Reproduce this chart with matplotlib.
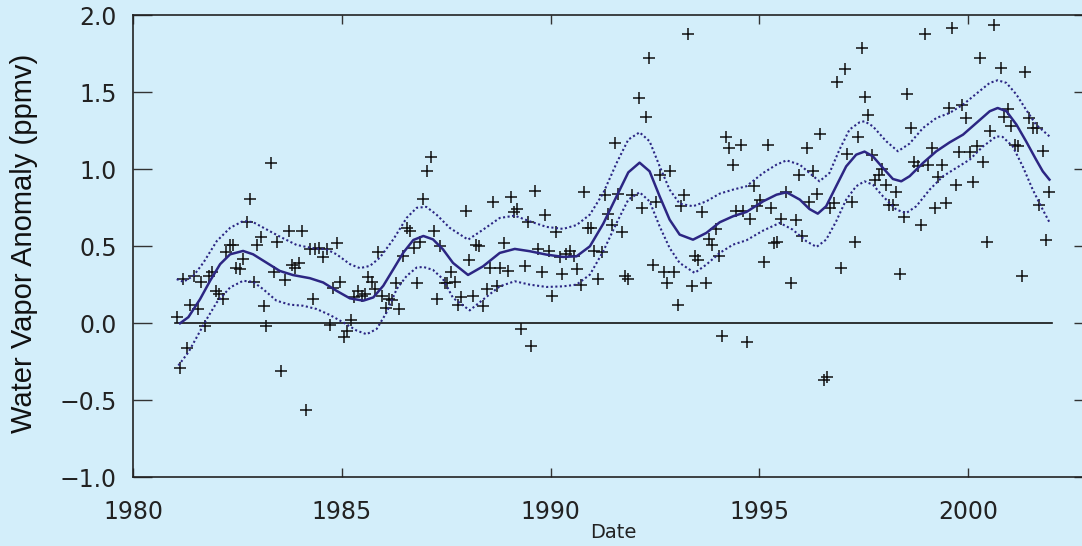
import matplotlib
matplotlib.use('Agg')
import matplotlib.pyplot as plt
from matplotlib.ticker import MultipleLocator

# monthly anomalies
obs_year = [
    1981.04, 1981.12, 1981.29, 1981.18, 1981.45, 1981.37, 1981.56, 1981.62, 1981.71, 1981.82,
    1981.89, 1981.98, 1982.05, 1982.14, 1982.22, 1982.32, 1982.38, 1982.46, 1982.56, 1982.63,
    1982.72, 1982.80, 1982.89, 1982.96, 1983.05, 1983.13, 1983.19, 1983.29, 1983.37, 1983.45,
    1983.55, 1983.63, 1983.72, 1983.80, 1983.88, 1983.98, 1984.04, 1984.14, 1984.23, 1984.30,
    1984.36, 1984.46, 1984.54, 1984.63, 1984.71, 1984.79, 1984.87, 1984.95, 1985.05, 1985.13,
    1985.21, 1985.29, 1985.38, 1985.48, 1985.56, 1985.62, 1985.72, 1985.80, 1985.86, 1985.97,
    1986.05, 1986.13, 1986.21, 1986.29, 1986.37, 1986.47, 1986.55, 1986.63, 1986.72, 1986.79,
    1986.88, 1986.95, 1987.04, 1987.14, 1987.20, 1987.28, 1987.36, 1987.46, 1987.52,
    1987.62, 1987.70, 1987.84, 1987.78, 1987.97, 1988.05, 1988.13, 1988.21, 1988.29, 1988.37,
    1988.48, 1988.54, 1988.62, 1988.72, 1988.78, 1988.88, 1988.97, 1989.04, 1989.12, 1989.20,
    1989.28, 1989.38, 1989.46, 1989.53, 1989.62, 1989.69, 1989.79, 1989.87, 1989.96, 1990.04,
    1990.12, 1990.22, 1990.28, 1990.36, 1990.46, 1990.55, 1990.62, 1990.73, 1990.79, 1990.89,
    1990.97, 1991.05, 1991.13, 1991.24, 1991.29, 1991.37, 1991.46, 1991.53, 1991.62, 1991.70,
    1991.78, 1991.86, 1991.96, 1992.12, 1992.20, 1992.29, 1992.36, 1992.45, 1992.53, 1992.61,
    1992.71, 1992.79, 1992.87, 1992.96, 1993.04, 1993.12, 1993.20, 1993.28, 1993.38, 1993.46,
    1993.54, 1993.62, 1993.71, 1993.79, 1993.87, 1993.95, 1994.03, 1994.11, 1994.19, 1994.27,
    1994.37, 1994.45, 1994.55, 1994.62, 1994.70, 1994.78, 1994.88, 1994.94,
    1995.02, 1995.10, 1995.21, 1995.28, 1995.34, 1995.42, 1995.53, 1995.63, 1995.77, 1995.87,
    1995.95, 1996.03, 1996.13, 1996.20, 1996.28, 1996.38, 1996.46, 1996.54, 1996.62, 1996.70,
    1996.80, 1996.87, 1996.95, 1997.04, 1997.11, 1997.21, 1997.29, 1997.36, 1997.46, 1997.53,
    1997.61, 1997.71, 1997.78, 1997.86, 1997.95, 1998.04, 1998.10, 1998.20, 1998.28, 1998.38,
    1998.46, 1998.53, 1998.63, 1998.70, 1998.79, 1998.87, 1998.96, 1999.05, 1999.13, 1999.21,
    1999.29, 1999.37, 1999.46, 1999.54, 1999.62, 1999.70, 1999.78, 1999.86, 1999.96, 2000.04,
    2000.13, 2000.21, 2000.28, 2000.37, 2000.45, 2000.53, 2000.63, 2000.79, 2000.87, 2000.96,
    2001.04, 2001.12, 2001.20, 2001.30, 2001.36, 2001.46, 2001.55, 2001.65, 2001.71, 2001.79,
    2001.87, 2001.95]
obs_anom = [
    0.04, -0.29, -0.16, 0.29, 0.31, 0.12, 0.09, 0.27, -0.02, 0.31,
    0.33, 0.21, 0.19, 0.16, 0.46, 0.51, 0.51, 0.36, 0.35, 0.42,
    0.66, 0.81, 0.27, 0.51, 0.56, 0.11, -0.02, 1.04, 0.33, 0.53,
    -0.31, 0.28, 0.60, 0.38, 0.36, 0.39, 0.60, -0.56, 0.48, 0.16,
    0.48, 0.49, 0.43, 0.48, -0.01, 0.23, 0.52, 0.27, -0.09, -0.05,
    0.02, 0.17, 0.21, 0.18, 0.19, 0.30, 0.27, 0.22, 0.46, 0.18,
    0.10, 0.16, 0.15, 0.26, 0.09, 0.44, 0.62, 0.60, 0.49, 0.26,
    0.53, 0.81, 0.99, 1.08, 0.60, 0.16, 0.50, 0.26, 0.26,
    0.33, 0.27, 0.17, 0.12, 0.73, 0.41, 0.18, 0.51, 0.50, 0.11,
    0.22, 0.36, 0.79, 0.24, 0.36, 0.52, 0.34, 0.82, 0.72, 0.74,
    -0.04, 0.37, 0.66, -0.15, 0.86, 0.48, 0.33, 0.70, 0.47, 0.18,
    0.59, 0.43, 0.32, 0.45, 0.47, 0.44, 0.35, 0.25, 0.85, 0.62,
    0.62, 0.47, 0.29, 0.46, 0.83, 0.71, 0.64, 1.17, 0.84, 0.59,
    0.31, 0.29, 0.83, 1.46, 0.75, 1.34, 1.72, 0.38, 0.79, 0.96,
    0.33, 0.26, 0.99, 0.33, 0.12, 0.76, 0.83, 1.88, 0.24, 0.44,
    0.41, 0.72, 0.26, 0.55, 0.51, 0.61, 0.44, -0.08, 1.21, 1.14,
    1.03, 0.73, 1.16, 0.73, -0.12, 0.68, 0.89, 0.76,
    0.80, 0.40, 1.16, 0.75, 0.52, 0.53, 0.68, 0.85, 0.26, 0.67,
    0.96, 0.57, 1.14, 0.79, 0.99, 0.84, 1.23, -0.37, -0.35, 0.75,
    0.78, 1.57, 0.36, 1.65, 1.10, 0.79, 0.53, 1.21, 1.79, 1.47,
    1.35, 1.09, 0.93, 0.96, 1.00, 0.90, 0.77, 0.77, 0.85, 0.32,
    0.69, 1.49, 1.27, 1.05, 1.02, 0.64, 1.88, 1.03, 1.14, 0.75,
    0.95, 1.03, 0.78, 1.40, 1.92, 0.90, 1.11, 1.42, 1.33, 1.11,
    0.92, 1.15, 1.72, 1.05, 0.53, 1.25, 1.94, 1.66, 1.34, 1.39,
    1.28, 1.16, 1.15, 0.31, 1.63, 1.33, 1.27, 1.27, 0.77, 1.12,
    0.54, 0.85]

# smoothed fit and its confidence bounds
fit_year = [
    1981.12, 1981.32, 1981.60, 1981.84, 1982.08, 1982.32, 1982.63, 1982.87, 1983.19, 1983.51,
    1983.83, 1984.23, 1984.55, 1984.87, 1985.19, 1985.51, 1985.75, 1985.99, 1986.23, 1986.47,
    1986.71, 1986.95, 1987.18, 1987.42, 1987.66, 1988.02, 1988.38, 1988.78, 1989.14, 1989.50,
    1989.90, 1990.30, 1990.62, 1990.94, 1991.26, 1991.58, 1991.86, 1992.13, 1992.37, 1992.61,
    1992.85, 1993.09, 1993.41, 1993.73, 1994.05, 1994.37, 1994.69, 1995.09, 1995.41, 1995.65,
    1995.97, 1996.20, 1996.40, 1996.60, 1996.84, 1997.08, 1997.32, 1997.52, 1997.72, 1997.96,
    1998.20, 1998.40, 1998.60, 1998.92, 1999.24, 1999.56, 1999.88, 2000.20, 2000.52, 2000.71,
    2000.92, 2001.16, 2001.39, 2001.63, 2001.79, 2001.95]
fit_mid = [
    0.00, 0.04, 0.157, 0.276, 0.384, 0.448, 0.47, 0.448, 0.394, 0.34,
    0.313, 0.293, 0.265, 0.211, 0.162, 0.147, 0.168, 0.244, 0.351, 0.459,
    0.541, 0.567, 0.545, 0.48, 0.392, 0.314, 0.37, 0.457, 0.483, 0.468,
    0.446, 0.431, 0.435, 0.50, 0.647, 0.825, 0.98, 1.043, 0.987, 0.825,
    0.673, 0.576, 0.543, 0.587, 0.656, 0.695, 0.723, 0.792, 0.835, 0.851,
    0.803, 0.742, 0.712, 0.76, 0.89, 1.019, 1.095, 1.115, 1.084, 1.009,
    0.937, 0.922, 0.955, 1.041, 1.117, 1.175, 1.225, 1.301, 1.377, 1.398,
    1.377, 1.29, 1.182, 1.063, 0.987, 0.933]

upper_year = [
    1981.04, 1981.20, 1981.44, 1981.68, 1982.00, 1982.32, 1982.63, 1982.87, 1983.19, 1983.51,
    1983.91, 1984.31, 1984.63, 1984.87, 1985.19, 1985.43, 1985.67, 1985.91, 1986.23, 1986.55,
    1986.79, 1987.02, 1987.26, 1987.58, 1988.02, 1988.38, 1988.78, 1989.14, 1989.50, 1989.90,
    1990.30, 1990.62, 1990.94, 1991.26, 1991.58, 1991.86, 1992.13, 1992.37, 1992.61, 1992.85,
    1993.09, 1993.41, 1993.73, 1994.05, 1994.37, 1994.69, 1995.09, 1995.41, 1995.65, 1995.97,
    1996.20, 1996.44, 1996.68, 1996.92, 1997.16, 1997.40, 1997.52, 1997.72, 1998.04, 1998.32,
    1998.60, 1998.92, 1999.24, 1999.56, 1999.88, 2000.20, 2000.52, 2000.71, 2000.92, 2001.16,
    2001.39, 2001.63, 2001.95]
fit_upper = [
    0.287, 0.269, 0.308, 0.394, 0.534, 0.62, 0.664, 0.657, 0.61, 0.563,
    0.509, 0.487, 0.48, 0.448, 0.384, 0.358, 0.373, 0.427, 0.545, 0.685,
    0.75, 0.756, 0.707, 0.62, 0.543, 0.608, 0.684, 0.699, 0.662, 0.626,
    0.613, 0.638, 0.706, 0.846, 1.041, 1.193, 1.24, 1.182, 1.02, 0.868,
    0.777, 0.76, 0.792, 0.842, 0.868, 0.89, 0.976, 1.03, 1.058, 1.03,
    0.976, 0.922, 0.976, 1.128, 1.258, 1.305, 1.312, 1.279, 1.182, 1.117,
    1.167, 1.268, 1.333, 1.366, 1.42, 1.491, 1.561, 1.578, 1.561, 1.485,
    1.387, 1.29, 1.214]

lower_year = [
    1981.08, 1981.32, 1981.52, 1981.76, 1982.00, 1982.32, 1982.63, 1982.87, 1983.11, 1983.43,
    1983.75, 1984.07, 1984.39, 1984.71, 1985.03, 1985.35, 1985.59, 1985.83, 1986.07, 1986.31,
    1986.55, 1986.79, 1986.95, 1987.18, 1987.42, 1987.66, 1988.06, 1988.38, 1988.78, 1989.14,
    1989.50, 1989.90, 1990.30, 1990.62, 1990.94, 1991.26, 1991.58, 1991.86, 1992.13, 1992.37,
    1992.61, 1992.85, 1993.09, 1993.45, 1993.73, 1994.05, 1994.37, 1994.69, 1995.09, 1995.49,
    1995.80, 1996.13, 1996.37, 1996.60, 1996.84, 1997.08, 1997.32, 1997.52, 1997.72, 1997.96,
    1998.28, 1998.52, 1998.76, 1999.08, 1999.40, 1999.72, 2000.04, 2000.36, 2000.68, 2000.83,
    2001.07, 2001.31, 2001.55, 2001.79, 2001.95]
fit_lower = [
    -0.274, -0.188, -0.09, 0.028, 0.136, 0.233, 0.276, 0.269, 0.222, 0.147,
    0.121, 0.114, 0.093, 0.054, 0.006, -0.047, -0.071, -0.037, 0.071, 0.222,
    0.308, 0.362, 0.366, 0.347, 0.287, 0.165, 0.084, 0.154, 0.24, 0.273,
    0.251, 0.236, 0.24, 0.251, 0.316, 0.468, 0.652, 0.803, 0.851, 0.792,
    0.63, 0.489, 0.392, 0.327, 0.381, 0.457, 0.511, 0.539, 0.602, 0.652,
    0.608, 0.532, 0.496, 0.543, 0.662, 0.803, 0.89, 0.922, 0.90, 0.825,
    0.738, 0.716, 0.76, 0.868, 0.955, 1.009, 1.063, 1.149, 1.214, 1.21,
    1.149, 1.019, 0.868, 0.738, 0.656]

zero_span = [1981.0, 2002.0]

bg = '#d3eefa'
navy = '#2c2683'

fig = plt.figure(figsize=(10.82, 5.46), dpi=100, facecolor=bg)
ax = fig.add_axes([0.1232, 0.1258, 0.8872, 0.8462], facecolor=bg)

ax.plot(zero_span, [0, 0], color='#111111', linewidth=1.2)
ax.plot(obs_year, obs_anom, linestyle='none', marker='+', color='#111111',
        markersize=8, markeredgewidth=1.1)
ax.plot(fit_year, fit_mid, color=navy, linewidth=1.8)
ax.plot(upper_year, fit_upper, color=navy, linewidth=1.5, linestyle=(0, (1, 1.2)))
ax.plot(lower_year, fit_lower, color=navy, linewidth=1.5, linestyle=(0, (1, 1.2)))

ax.set_xlim(1980, 2003)
ax.set_ylim(-1.0, 2.0)
ax.xaxis.set_major_locator(MultipleLocator(5))
ax.yaxis.set_major_locator(MultipleLocator(0.5))

for side in ax.spines.values():
    side.set_linewidth(1.2)
    side.set_color('#222222')

ax.tick_params(axis='x', direction='in', length=6.5, width=1, color='#333333',
               top=True, pad=16, labelsize=17, labelcolor='#222222')
ax.tick_params(axis='y', direction='in', length=14, width=1, color='#333333',
               right=True, pad=12, labelsize=17, labelcolor='#222222')

# "Date" sits right at the bottom edge like in the original
ax.set_xlabel('Date', fontsize=14, color='#222222')
ax.xaxis.set_label_coords(0.5, -0.099)
ax.set_ylabel('Water Vapor Anomaly (ppmv)', fontsize=21, family='Liberation Sans',
              color='#111111')
ax.yaxis.set_label_coords(-0.099, 0.507)

fig.savefig('out.png', dpi=100, facecolor=bg)
